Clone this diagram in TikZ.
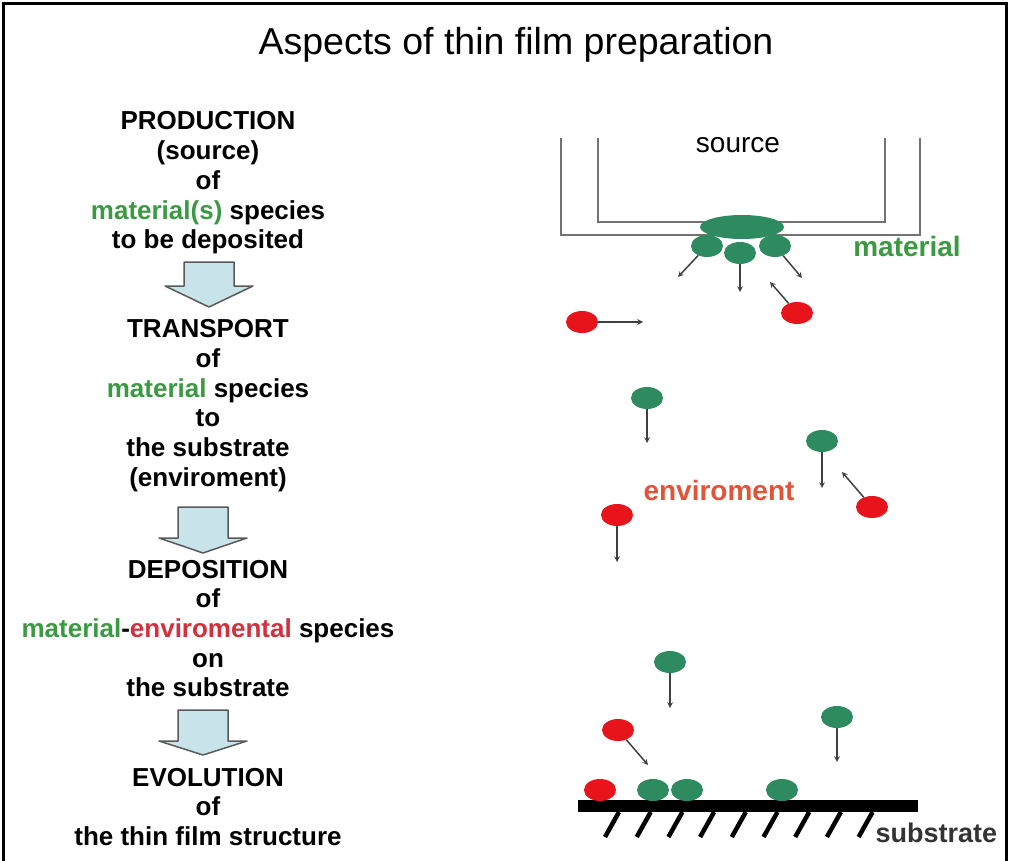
\documentclass[tikz,border=0pt]{standalone}
\usepackage{fontspec}
\setmainfont{Liberation Sans}
\usetikzlibrary{shapes.geometric}

\definecolor{matgreen}{HTML}{3A9A42}
\definecolor{dotgreen}{HTML}{2E8B5F}
\definecolor{dotred}{HTML}{E8141B}
\definecolor{envred}{HTML}{E0553A}
\definecolor{envdark}{HTML}{D2303C}
\definecolor{arrowblue}{HTML}{C8E4EA}

\tikzset{
  stagetext/.style={font=\fontsize{26}{29.7}\selectfont\bfseries, align=center},
  gdot/.style={ellipse, fill=dotgreen, minimum width=32, minimum height=22, inner sep=0pt},
  rdot/.style={gdot, fill=dotred},
  flight/.style={->, draw=black!75, line width=1.5pt},
  bigword/.style={font=\fontsize{28}{30}\selectfont\bfseries}
}

\begin{document}
\begin{tikzpicture}[x=1pt,y=-1pt,>=stealth]
  \useasboundingbox (0,0) rectangle (1009,861);
  % Ramme og tittel
  \draw[line width=3pt] (3,861) -- (3,4) -- (1006,4) -- (1006,861);
  \node (title) at (516,45) {\fontsize{37.5}{40}\selectfont Aspects of thin film preparation};

  % Stegene
  \node[stagetext] (production) at (208,183) {PRODUCTION\\(source)\\of\\{\color{matgreen}material(s)} species\\to be deposited};
  \node[stagetext] (transport) at (208,405.5) {TRANSPORT\\of\\{\color{matgreen}material} species\\to\\the substrate\\(enviroment)};
  \node[stagetext] (deposition) at (208,628.5) {DEPOSITION\\of\\{\color{matgreen}material}-{\color{envdark}enviromental} species\\on\\the substrate};
  \node[stagetext] (evolution) at (208,807) {EVOLUTION\\of\\the thin film structure};

  % Blokkpiler
  \foreach \c/\t/\b/\p in {209/262/286/307, 203/507/538/553, 203/710/741/755} {
    \draw[fill=arrowblue, draw=black!65, line width=1.5pt, line join=round]
      (\c-25,\t) -- (\c+25,\t) -- (\c+25,\b) -- (\c+44,\b) -- (\c,\p) -- (\c-44,\b) -- (\c-25,\b) -- cycle;
  }

  % Kilde
  \draw[draw=black!55, line width=2pt] (561,138) -- (561,235) -- (920,235) -- (920,138);
  \draw[draw=black!55, line width=2pt] (598,138) -- (598,222) -- (885,222) -- (885,138);
  \node (source) at (738,145) {\fontsize{28}{30}\selectfont source};
  \node[gdot, minimum width=84, minimum height=24] (melt) at (742,227) {};
  \node[gdot] (s1) at (707,246) {};
  \node[gdot] (s2) at (740,253) {};
  \node[gdot] (s3) at (775,246) {};
  \node[bigword, text=matgreen] (material) at (907,246) {material};

  % Partikler i rommet
  \node[rdot] (r1) at (797,313) {};
  \node[rdot] (r2) at (582,322) {};
  \node[gdot] (g1) at (647,398) {};
  \node[gdot] (g2) at (822,441) {};
  \node[rdot] (r3) at (872,507) {};
  \node[rdot] (r4) at (617,515) {};
  \node[bigword, text=envred] (enviroment) at (719,490) {enviroment};
  \node[gdot] (g3) at (670,662) {};
  \node[rdot] (r5) at (618,730) {};
  \node[gdot] (g4) at (837,717) {};

  % Baner
  \foreach \n/\x/\y in {s1/678/277, s2/740/292, s3/802/278, r1/770/282, r2/643/322,
                        g1/647/443, g2/822/488, r3/842/472, r4/617/562,
                        g3/670/708, r5/648/765, g4/837/762} {
    \coordinate (\n end) at (\x,\y);
    \draw[flight] (\n) -- (\n end);
  }

  % Substrat
  \fill (578,800) rectangle (918,812);
  \foreach \i in {0,...,8} {
    \draw[line width=4.5pt] (605+31.7*\i,837) -- (619+31.7*\i,812);
  }
  \node[rdot] (r6) at (600,790) {};
  \node[gdot] (g5) at (653,790) {};
  \node[gdot] (g6) at (687,790) {};
  \node[gdot] (g7) at (782,790) {};
  \node[anchor=west, font=\fontsize{27}{30}\selectfont\bfseries, text=black!80] (substrate) at (872,833) {substrate};
\end{tikzpicture}
\end{document}
